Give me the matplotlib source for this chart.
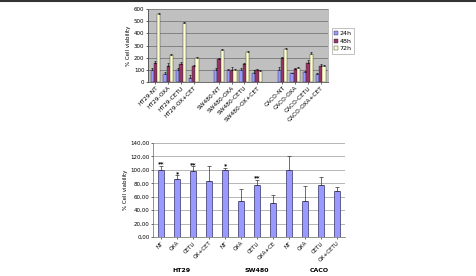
import numpy as np
import matplotlib
matplotlib.use("Agg")
import matplotlib.pyplot as plt
from matplotlib.lines import Line2D

# top chart: cell viability at 24h / 48h / 72h
top_labels = ["HT29-NT", "HT29-OXA", "HT29-CETU", "HT29-OX+CET",
              "SW480-NT", "SW480-OXA", "SW480-CETU", "SW480-OX+CET",
              "CACO-NT", "CACO-OXA", "CACO-CETU", "CACO-OXA+CET"]
v24 = [100, 65, 100, 35, 100, 95, 100, 75, 100, 70, 85, 65]
v48 = [155, 130, 150, 135, 190, 100, 150, 95, 200, 105, 155, 130]
v72 = [560, 225, 485, 200, 265, 100, 250, 90, 275, 115, 230, 135]
e24 = [12, 15, 15, 20, 12, 8, 12, 20, 20, 5, 8, 10]
e48 = [20, 25, 15, 8, 8, 20, 10, 15, 8, 8, 25, 20]
e72 = [5, 8, 5, 8, 8, 10, 5, 5, 5, 10, 15, 8]
series_names = ["24h", "48h", "72h"]

# bottom chart: % cell viability relative to control
bot_labels = ["NT", "OXA", "CETU", "OX+CET", "NT", "OXA", "CETU", "OXA+CE",
              "NT", "OXA", "CETU", "OX+CETU"]
bot_vals = [100, 87, 99, 84, 100, 54, 78, 50, 100, 54, 78, 68]
bot_err = [6, 5, 6, 21, 3, 18, 7, 12, 20, 22, 11, 7]
bot_sig = ["**", "*", "**", "", "*", "", "**", "", "", "", "", ""]
groups = ["HT29", "SW480", "CACO"]
group_x = [1.3, 6.0, 9.9]

fig = plt.figure(figsize=(4.77, 2.76), dpi=100)
fig.add_artist(Line2D([0, 1], [0.997, 0.997], color="#333333", lw=1.5))

# ---- top chart
ax = fig.add_axes([0.310, 0.703, 0.378, 0.264])
ax.set_facecolor("#C0C0C0")
pos = np.array([i + (i // 4) for i in range(12)], dtype=float)
w = 0.26
cols = ["#9999FF", "#993366", "#FFFFCC"]
for k, (vals, errs) in enumerate(zip([v24, v48, v72], [e24, e48, e72])):
    ax.bar(pos + (k - 1) * w, vals, w, color=cols[k], edgecolor="#333333",
           linewidth=0.3, label=series_names[k], zorder=3)
    ax.errorbar(pos + (k - 1) * w, vals, yerr=[np.zeros(12), errs], fmt="none",
                ecolor="black", elinewidth=0.4, capsize=1, capthick=0.4, zorder=4)
ax.set_xlim(-0.6, pos[-1] + 0.6)
ax.set_ylim(0, 600)
ax.set_yticks(np.arange(0, 601, 100))
ax.yaxis.grid(True, color="#555555", lw=0.4, zorder=0)
ax.set_xticks(pos)
ax.set_xticklabels(top_labels, rotation=45, ha="right", rotation_mode="anchor", fontsize=4.2)
ax.tick_params(axis="y", labelsize=4, length=1.5, width=0.4, pad=1)
ax.tick_params(axis="x", length=1.5, width=0.4, pad=1)
ax.set_ylabel("% Cell viability", fontsize=4, labelpad=2)
for s in ["left", "bottom"]:
    ax.spines[s].set_color("#333333")
    ax.spines[s].set_linewidth(0.5)
for s in ["top", "right"]:
    ax.spines[s].set_color("#888888")
    ax.spines[s].set_linewidth(0.4)
leg = ax.legend(loc="center left", bbox_to_anchor=(1.02, 0.56), fontsize=4.5,
                frameon=True, fancybox=False, handlelength=0.6, handleheight=0.6,
                handletextpad=0.3, borderpad=0.4, labelspacing=0.4, borderaxespad=0)
leg.get_frame().set_edgecolor("#777777")
leg.get_frame().set_linewidth(0.4)

# ---- bottom chart
bx = fig.add_axes([0.321, 0.141, 0.402, 0.341])
x = np.arange(12)
bx.bar(x, bot_vals, 0.42, color="#9999FF", edgecolor="#333366", linewidth=0.5, zorder=3)
bx.errorbar(x, bot_vals, yerr=[np.zeros(12), bot_err], fmt="none", ecolor="#333333",
            elinewidth=0.5, capsize=1.5, capthick=0.5, zorder=4)
for xi, v, e, s in zip(x, bot_vals, bot_err, bot_sig):
    if s:
        bx.text(xi, v + e - 1, s, ha="center", va="bottom", fontsize=4.5, fontweight="bold")
bx.set_xlim(-0.5, 11.5)
bx.set_ylim(0, 140)
bx.set_yticks(np.arange(0, 141, 20))
bx.set_yticklabels(["%d,00" % t for t in np.arange(0, 141, 20)])
bx.yaxis.grid(True, color="#999999", lw=0.5, zorder=0)
bx.set_xticks(x)
bx.set_xticklabels(bot_labels, rotation=45, ha="right", rotation_mode="anchor", fontsize=4)
bx.tick_params(axis="y", labelsize=4, length=1.5, width=0.4, pad=1)
bx.tick_params(axis="x", length=1.5, width=0.4, pad=1)
bx.set_ylabel("% Cell viability", fontsize=4, labelpad=2)
for s in ["top", "right"]:
    bx.spines[s].set_visible(False)
for s in ["left", "bottom"]:
    bx.spines[s].set_color("#666666")
    bx.spines[s].set_linewidth(0.5)
for gx, g in zip(group_x, groups):
    bx.text(gx, -0.35, g, transform=bx.get_xaxis_transform(), ha="center",
            va="center", fontsize=4.5, fontweight="bold")

fig.savefig("out.png", dpi=100)
